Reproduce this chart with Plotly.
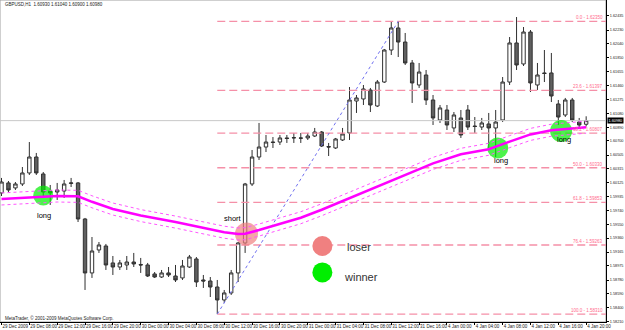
import plotly.graph_objects as go

# ---------------- data ----------------
tick_idx = [0, 4, 8, 12, 16, 20, 24, 28, 32, 36, 40, 44, 48, 52, 56, 60, 64, 68, 72, 76, 80, 84]
tick_text = ["29 Dec 2009", "29 Dec 08:00", "29 Dec 12:00", "29 Dec 16:00", "29 Dec 20:00",
             "30 Dec 00:00", "30 Dec 04:00", "30 Dec 08:00", "30 Dec 12:00", "30 Dec 16:00",
             "30 Dec 20:00", "31 Dec 00:00", "31 Dec 04:00", "31 Dec 08:00", "31 Dec 12:00",
             "31 Dec 16:00", "4 Jan 00:00", "4 Jan 04:00", "4 Jan 08:00", "4 Jan 12:00",
             "4 Jan 16:00", "4 Jan 20:00"]

price_ticks = ["1.62435", "1.62230", "1.62040", "1.61850", "1.61655", "1.61460", "1.61275",
               "1.61080", "1.60890", "1.60700", "1.60505", "1.60315", "1.60125", "1.59935",
               "1.59740", "1.59550", "1.59360", "1.59165", "1.58975", "1.58780", "1.58590",
               "1.58400", "1.58210"]

opens = [1.59982, 1.60120, 1.60051, 1.60106, 1.60258, 1.60478, 1.60244, 1.60009, 1.59995, 1.60009,
         1.60113, 1.60120, 1.59623, 1.58878, 1.59195, 1.59250, 1.59016, 1.58960, 1.58988, 1.59029,
         1.58995, 1.58988, 1.58864, 1.58822, 1.58878, 1.58836, 1.58809, 1.58960, 1.59071, 1.58781,
         1.58767, 1.58684, 1.58505, 1.58602, 1.58878, 1.59292, 1.60106, 1.60478, 1.60616, 1.60685,
         1.60685, 1.60741, 1.60741, 1.60741, 1.60741, 1.60768, 1.60823, 1.60623, 1.60603, 1.60713,
         1.60810, 1.61251, 1.61279, 1.61403, 1.61182, 1.61513, 1.61955, 1.62259, 1.62065, 1.61776,
         1.61472, 1.61610, 1.61265, 1.60989, 1.61127, 1.60879, 1.61017, 1.61127, 1.60906, 1.60892,
         1.60934, 1.60879, 1.60989, 1.61513, 1.62052, 1.61762, 1.62203, 1.61472, 1.61638, 1.61638,
         1.61210, 1.61058, 1.61265, 1.60961, 1.60930]
highs = [1.60189, 1.60147, 1.60133, 1.60340, 1.60685, 1.60534, 1.60271, 1.60092, 1.60120, 1.60161,
         1.60189, 1.60133, 1.59637, 1.59374, 1.59305, 1.59278, 1.59112, 1.59057, 1.59112, 1.59154,
         1.59085, 1.59016, 1.58891, 1.58919, 1.58960, 1.58988, 1.59057, 1.59126, 1.59098, 1.58850,
         1.58822, 1.58781, 1.58643, 1.58919, 1.59305, 1.60120, 1.60575, 1.60948, 1.60782, 1.60754,
         1.60782, 1.60782, 1.60810, 1.60810, 1.60810, 1.60879, 1.60837, 1.60672, 1.60741, 1.60879,
         1.61444, 1.61334, 1.61472, 1.61431, 1.61541, 1.61969, 1.62341, 1.62350, 1.62190, 1.61817,
         1.61776, 1.61679, 1.61334, 1.61196, 1.61196, 1.61099, 1.61127, 1.61196, 1.61030, 1.61017,
         1.61086, 1.61127, 1.61582, 1.62134, 1.62410, 1.62272, 1.62231, 1.61776, 1.61955, 1.61914,
         1.61265, 1.61293, 1.61293, 1.61017, 1.61040]
lows = [1.59940, 1.59995, 1.60023, 1.60078, 1.60230, 1.60230, 1.59913, 1.59816, 1.59885, 1.59913,
        1.60064, 1.59581, 1.58643, 1.58809, 1.59154, 1.58919, 1.58850, 1.58919, 1.58919, 1.58960,
        1.58878, 1.58822, 1.58809, 1.58809, 1.58822, 1.58753, 1.58781, 1.58947, 1.58684, 1.58671,
        1.58546, 1.58310, 1.58464, 1.58574, 1.58753, 1.59154, 1.60078, 1.60437, 1.60547, 1.60603,
        1.60644, 1.60672, 1.60672, 1.60672, 1.60713, 1.60754, 1.60616, 1.60492, 1.60589, 1.60699,
        1.60713, 1.61086, 1.61196, 1.61099, 1.61168, 1.61500, 1.61886, 1.61858, 1.61748, 1.61224,
        1.61431, 1.61196, 1.60920, 1.60948, 1.60851, 1.60823, 1.60741, 1.60851, 1.60810, 1.60851,
        1.60603, 1.60478, 1.60961, 1.61472, 1.61679, 1.61734, 1.61375, 1.61403, 1.61513, 1.61237,
        1.60920, 1.61030, 1.60961, 1.60879, 1.60900]
closes = [1.60133, 1.60023, 1.60106, 1.60258, 1.60478, 1.60258, 1.59995, 1.59982, 1.60023, 1.60106,
          1.60120, 1.59623, 1.58878, 1.59181, 1.59264, 1.58988, 1.58960, 1.59016, 1.59029, 1.59002,
          1.58988, 1.58836, 1.58822, 1.58878, 1.58850, 1.58781, 1.58974, 1.59098, 1.58753, 1.58767,
          1.58684, 1.58505, 1.58602, 1.58878, 1.59292, 1.60106, 1.60478, 1.60616, 1.60685, 1.60679,
          1.60741, 1.60734, 1.60745, 1.60738, 1.60768, 1.60823, 1.60630, 1.60616, 1.60727, 1.60796,
          1.61265, 1.61293, 1.61417, 1.61196, 1.61513, 1.61955, 1.62259, 1.62065, 1.61776, 1.61500,
          1.61651, 1.61265, 1.61017, 1.61155, 1.60920, 1.61058, 1.60782, 1.60892, 1.60899, 1.60948,
          1.60879, 1.60961, 1.61513, 1.62052, 1.61748, 1.62203, 1.61500, 1.61610, 1.61631, 1.61320,
          1.61030, 1.61265, 1.60989, 1.60920, 1.60980]

ma_idx = [0, 4, 8, 11, 13, 16, 20, 25, 29, 32, 34, 35, 37, 40, 43, 46, 50, 54, 58, 62, 66, 70, 73, 76, 79, 82, 84]
ma_val = [1.59899, 1.59920, 1.59940, 1.59935, 1.59860, 1.59760, 1.59670, 1.59580, 1.59499, 1.59440,
          1.59416, 1.59420, 1.59470, 1.59560, 1.59640, 1.59750, 1.59910, 1.60064, 1.60230, 1.60390,
          1.60515, 1.60585, 1.60690, 1.60790, 1.60848, 1.60877, 1.60890]
ma_upper = [1.59982, 1.60003, 1.60023, 1.60018, 1.59943, 1.59843, 1.59753, 1.59663, 1.59582, 1.59523,
            1.59499, 1.59503, 1.59553, 1.59643, 1.59723, 1.59833, 1.59993, 1.60147, 1.60313, 1.60473,
            1.60598, 1.60668, 1.60773, 1.60873, 1.60931, 1.60960, 1.60973]
ma_lower = [1.59816, 1.59837, 1.59857, 1.59852, 1.59777, 1.59677, 1.59587, 1.59497, 1.59416, 1.59357,
            1.59333, 1.59337, 1.59387, 1.59477, 1.59557, 1.59667, 1.59827, 1.59981, 1.60147, 1.60307,
            1.60432, 1.60502, 1.60607, 1.60707, 1.60765, 1.60794, 1.60807]

fib_low_idx, fib_low = 31, 1.58310
fib_high_idx, fib_high = 57, 1.62350
fib_ratios = [0.0, 23.6, 38.2, 50.0, 61.8, 76.4, 100.0]

bid_price = 1.60980
header = "GBPUSD,H1  1.60930 1.61040 1.60900 1.60980"
footer = "MetaTrader, \u00a9 2001-2009 MetaQuotes Software Corp."

signal_idx = [6, 35.2, 71.3, 80.4]
signal_price = [1.59947, 1.59416, 1.60603, 1.60837]
signal_kind = ["win", "lose", "win", "win"]
signal_text = ["long", "short", "long", "long"]
signal_text_idx = [6.1, 33.2, 71.8, 80.8]
signal_text_price = [1.59671, 1.59630, 1.60430, 1.60720]

legend_idx = [46.1, 46.1]
legend_price = [1.59250, 1.58885]
legend_kind = ["lose", "win"]
legend_text = ["loser", "winner"]
legend_text_idx = [49.3, 48.9]
legend_text_price = [1.59240, 1.58823]

# ---------------- styles ----------------
WIN = "#00EE00"
LOSE = "#F08080"
FIB = "#F590A8"
FIBTXT = "#FF6A8C"
kind_color = {"win": WIN, "lose": LOSE}

X0, X1 = -0.2155, 86.85
Y0, Y1 = 1.58201, 1.62645

fig = go.Figure()

# bid line
fig.add_trace(go.Scatter(x=[X0, X1], y=[bid_price, bid_price], mode="lines",
                         line=dict(color="#C8C8C8", width=1), hoverinfo="skip"))

# fibonacci levels
span = fib_high - fib_low
for r in fib_ratios:
    lvl = fib_high - span * r / 100.0
    fig.add_trace(go.Scatter(x=[fib_low_idx, X1], y=[lvl, lvl], mode="lines",
                             line=dict(color=FIB, width=1.3, dash="8px,4px"), hoverinfo="skip"))
    fig.add_annotation(x=86.7, y=lvl, xref="x", yref="y", text=f"{r:.1f} - {lvl:.5f}",
                       showarrow=False, xanchor="right", yanchor="bottom", yshift=-1,
                       font=dict(size=4.5, color=FIBTXT, family="Liberation Sans"))

# fib trend line
fig.add_trace(go.Scatter(x=[fib_low_idx, fib_high_idx], y=[fib_low, fib_high], mode="lines",
                         line=dict(color="#7070F0", width=1, dash="dot"), hoverinfo="skip"))

# circles
fig.add_trace(go.Scatter(x=signal_idx, y=signal_price, mode="markers",
                         marker=dict(size=[20, 23, 21, 22], color=[kind_color[k] for k in signal_kind],
                                     line=dict(width=0)), hoverinfo="skip"))
fig.add_trace(go.Scatter(x=legend_idx, y=legend_price, mode="markers",
                         marker=dict(size=20, color=[kind_color[k] for k in legend_kind],
                                     line=dict(width=0)), hoverinfo="skip"))

# candles
fig.add_trace(go.Candlestick(
    x=list(range(len(opens))), open=opens, high=highs, low=lows, close=closes,
    increasing=dict(line=dict(color="#303030", width=1), fillcolor="#FFFFFF"),
    decreasing=dict(line=dict(color="#303030", width=1), fillcolor="#606060"),
    whiskerwidth=0, hoverinfo="skip"))

# moving average envelope
for band in (ma_upper, ma_lower):
    fig.add_trace(go.Scatter(x=ma_idx, y=band, mode="lines",
                             line=dict(color="#FF55FF", width=1, dash="dot"), hoverinfo="skip"))
fig.add_trace(go.Scatter(x=ma_idx, y=ma_val, mode="lines",
                         line=dict(color="#FF00FF", width=2.5), hoverinfo="skip"))

# labels
for t, xi, yi in zip(signal_text, signal_text_idx, signal_text_price):
    fig.add_annotation(x=xi, y=yi, xref="x", yref="y", text=t, showarrow=False,
                       font=dict(size=7.5, color="#000000", family="Liberation Sans"))
for t, xi, yi in zip(legend_text, legend_text_idx, legend_text_price):
    fig.add_annotation(x=xi, y=yi, xref="x", yref="y", text=t, showarrow=False, xanchor="left",
                       font=dict(size=11, color="#333333", family="Liberation Sans"))

fig.add_annotation(x=3 / 606, y=1 - 5 / 322, xref="paper", yref="paper", text=header,
                   showarrow=False, xanchor="left", yanchor="middle",
                   font=dict(size=4.5, color="#222222", family="Liberation Sans"))
fig.add_annotation(x=3 / 606, y=1 - 318 / 322, xref="paper", yref="paper", text=footer,
                   showarrow=False, xanchor="left", yanchor="middle",
                   font=dict(size=4.5, color="#222222", family="Liberation Sans"))
fig.add_annotation(x=1, y=bid_price, xref="paper", yref="y", text=f"{bid_price:.5f}",
                   showarrow=False, xanchor="left", yanchor="middle", xshift=1,
                   bgcolor="#000000", borderpad=0.5,
                   font=dict(size=3.8, color="#FFFFFF", family="Liberation Sans"))

fig.add_shape(type="rect", xref="paper", yref="paper", x0=0, y0=0, x1=1, y1=1,
              line=dict(color="#A0A0A0", width=1), layer="below")

fig.update_layout(
    width=625, height=330,
    margin=dict(l=0, r=19, t=0, b=8, autoexpand=False),
    paper_bgcolor="#FFFFFF", plot_bgcolor="#FFFFFF",
    showlegend=False,
    xaxis=dict(range=[X0, X1], showgrid=False, zeroline=False, rangeslider=dict(visible=False),
               tickmode="array", tickvals=tick_idx, ticktext=tick_text, tickangle=0,
               automargin=False,
               ticks="outside", ticklen=2, tickcolor="#000000",
               ticklabelposition="outside right",
               tickfont=dict(size=4.5, color="#222222", family="Liberation Sans"),
               showline=True, linecolor="#000000", linewidth=1),
    yaxis=dict(range=[Y0, Y1], side="right", showgrid=False, zeroline=False, automargin=False,
               tickmode="array", tickvals=[float(v) for v in price_ticks], ticktext=price_ticks,
               ticks="outside", ticklen=2, tickcolor="#000000", ticklabelstandoff=0,
               tickfont=dict(size=3.8, color="#222222", family="Liberation Sans"),
               showline=True, linecolor="#000000", linewidth=1),
)

fig.write_html("out.html", config={"displayModeBar": False})
